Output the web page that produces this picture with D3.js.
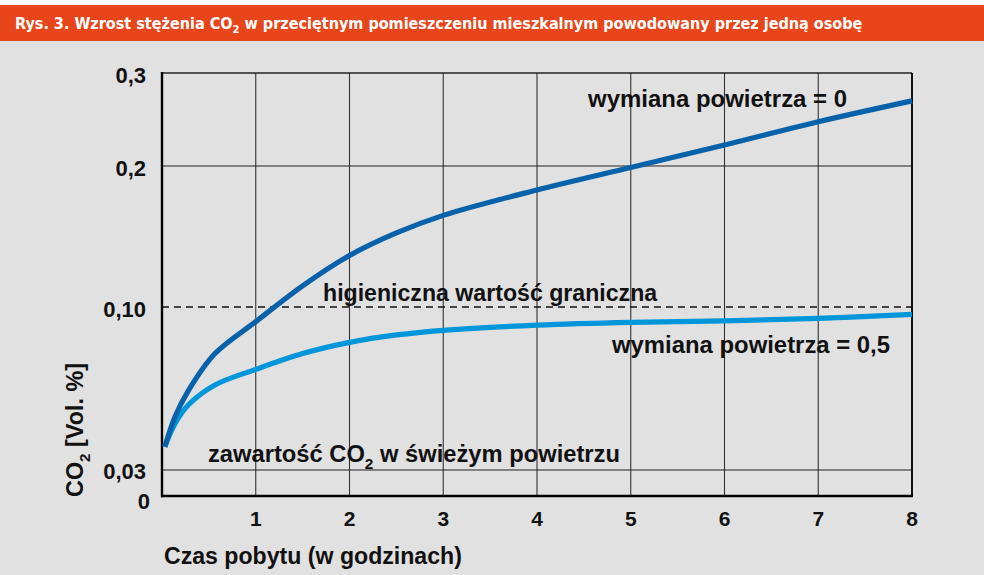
<!DOCTYPE html>
<html><head><meta charset="utf-8">
<script src="https://cdn.jsdelivr.net/npm/d3@7"></script>
<style>html,body{margin:0;padding:0;background:#fff}svg{display:block}</style>
</head><body>
<script>
// ---- data ----
const hours      = [0.03, 0.14, 0.28, 0.565, 1, 1.5, 2, 2.5, 3, 4, 5, 6, 7, 8];
const exchange0  = [0.040, 0.053, 0.064, 0.080, 0.0937, 0.1150, 0.1365, 0.1525, 0.165, 0.183, 0.199, 0.2226, 0.2476, 0.270];
const exchange05 = [0.040, 0.050, 0.0579, 0.0665, 0.0732, 0.0800, 0.0848, 0.0880, 0.0900, 0.0922, 0.0934, 0.0940, 0.0951, 0.0968];
const xTicks = [1, 2, 3, 4, 5, 6, 7, 8];
const yTicks = [0, 0.03, 0.10, 0.2, 0.3];
const yTickLabels = ["0", "0,03", "0,10", "0,2", "0,3"];
const limitValue = 0.10;
const freshAirValue = 0.03;
const title = "Rys. 3. Wzrost stężenia CO";
const titleRest = " w przeciętnym pomieszczeniu mieszkalnym powodowany przez jedną osobę";

const W = 984, H = 575;
const svg = d3.select("body").append("svg").attr("width", W).attr("height", H);
svg.append("rect").attr("width", W).attr("height", H).attr("fill", "#fff");
svg.append("rect").attr("x", 0).attr("y", 41).attr("width", W).attr("height", H - 41).attr("fill", "#e1e1e1");
svg.append("rect").attr("x", 0).attr("y", 5).attr("width", W).attr("height", 36).attr("fill", "#e8461a");

const bold = "'Liberation Sans', Arial, sans-serif";
const narrow = "'Liberation Sans Narrow', 'DejaVu Sans Condensed', sans-serif";

function fit(sel, target) {
  const n = sel.node();
  let fs = parseFloat(sel.attr("font-size"));
  for (let i = 0; i < 3; i++) {
    const w = n.getComputedTextLength();
    fs = fs * target / w;
    sel.attr("font-size", fs);
  }
  return sel;
}

// title
const t = svg.append("text").attr("x", 15).attr("y", 23).attr("dy", "0.35em")
  .attr("font-family", narrow).attr("font-weight", "bold").attr("font-size", 15).attr("fill", "#fff");
t.append("tspan").text(title);
t.append("tspan").attr("font-size", "70%").attr("dy", "0.35em").text("2");
t.append("tspan").attr("dy", "-0.25em").text(titleRest);
fit(t, 847);

const x = d3.scaleLinear().domain([0, 8]).range([162, 912]);
const y = d3.scaleLinear().domain(yTicks).range([496, 470, 307, 166, 73]);

const g = svg.append("g");
// vertical grid
g.selectAll(".vg").data(xTicks.slice(0, -1)).enter().append("line")
  .attr("x1", d => x(d)).attr("x2", d => x(d)).attr("y1", y(0.3)).attr("y2", y(0))
  .attr("stroke", "#333").attr("stroke-width", 1.1);
// horizontal grid
g.selectAll(".hg").data([freshAirValue, 0.2]).enter().append("line")
  .attr("x1", x(0)).attr("x2", x(8)).attr("y1", d => y(d)).attr("y2", d => y(d))
  .attr("stroke", "#222").attr("stroke-width", 1.1);
// dashed limit
g.append("line").attr("x1", x(0)).attr("x2", x(8)).attr("y1", y(limitValue)).attr("y2", y(limitValue))
  .attr("stroke", "#111").attr("stroke-width", 1.5).attr("stroke-dasharray", "7,5");
// frame
g.append("line").attr("x1", x(0)).attr("x2", x(8)).attr("y1", y(0.3)).attr("y2", y(0.3)).attr("stroke", "#222").attr("stroke-width", 1.6);
g.append("line").attr("x1", x(8)).attr("x2", x(8)).attr("y1", y(0.3)).attr("y2", y(0)).attr("stroke", "#111").attr("stroke-width", 2);
g.append("line").attr("x1", x(0)).attr("x2", x(0)).attr("y1", y(0.3) - 1).attr("y2", y(0) + 1.2).attr("stroke", "#000").attr("stroke-width", 2.4);
g.append("line").attr("x1", x(0) - 1).attr("x2", x(8) + 1).attr("y1", y(0)).attr("y2", y(0)).attr("stroke", "#000").attr("stroke-width", 2.4);

// curves
const line = d3.line().x((d, i) => x(hours[i])).y(d => y(d)).curve(d3.curveCatmullRom.alpha(0.5));
svg.append("path").attr("d", line(exchange05)).attr("fill", "none").attr("stroke", "#0096da").attr("stroke-width", 5.2);
svg.append("path").attr("d", line(exchange0)).attr("fill", "none").attr("stroke", "#0862aa").attr("stroke-width", 5.2);

// y tick labels
svg.selectAll(".yl").data(yTicks).enter().append("text")
  .attr("x", (d, i) => i === 0 ? 150 : 146)
  .attr("y", (d, i) => i === 0 ? 501 : y(d) + (i === 1 ? 1 : 2))
  .attr("dy", "0.35em").attr("text-anchor", "end")
  .attr("font-family", bold).attr("font-weight", "bold").attr("font-size", 22).attr("fill", "#111")
  .text((d, i) => yTickLabels[i]);

// x tick labels
svg.selectAll(".xl").data(xTicks).enter().append("text")
  .attr("x", d => x(d)).attr("y", 519).attr("dy", "0.35em").attr("text-anchor", "middle")
  .attr("font-family", bold).attr("font-weight", "bold").attr("font-size", 21).attr("fill", "#111")
  .text(d => d);

function label(txt, x0, w, cy, sub) {
  const s = svg.append("text").attr("x", x0).attr("y", cy).attr("dy", "0.35em")
    .attr("font-family", bold).attr("font-weight", "bold").attr("font-size", 19).attr("fill", "#111");
  if (sub) {
    s.append("tspan").text(txt[0]);
    s.append("tspan").attr("font-size", "65%").attr("dy", "0.45em").text("2");
    s.append("tspan").attr("dy", "-0.3em").text(txt[1]);
  } else s.text(txt);
  fit(s, w);
  return s;
}
label("wymiana powietrza = 0", 588, 259, 99);
label("higieniczna wartość graniczna", 323, 334, 293);
label("wymiana powietrza = 0,5", 612, 278, 345);
label(["zawartość CO", " w świeżym powietrzu"], 208, 412, 454, true);
label("Czas pobytu (w godzinach)", 164, 298, 556);

// y axis title
const yt = svg.append("text").attr("transform", "translate(75,497) rotate(-90)").attr("dy", "0.35em")
  .attr("font-family", bold).attr("font-weight", "bold").attr("font-size", 20).attr("fill", "#111");
yt.append("tspan").text("CO");
yt.append("tspan").attr("font-size", "65%").attr("dy", "0.45em").text("2");
yt.append("tspan").attr("dy", "-0.3em").text(" [Vol. %]");
fit(yt, 134);
</script>
</body></html>
